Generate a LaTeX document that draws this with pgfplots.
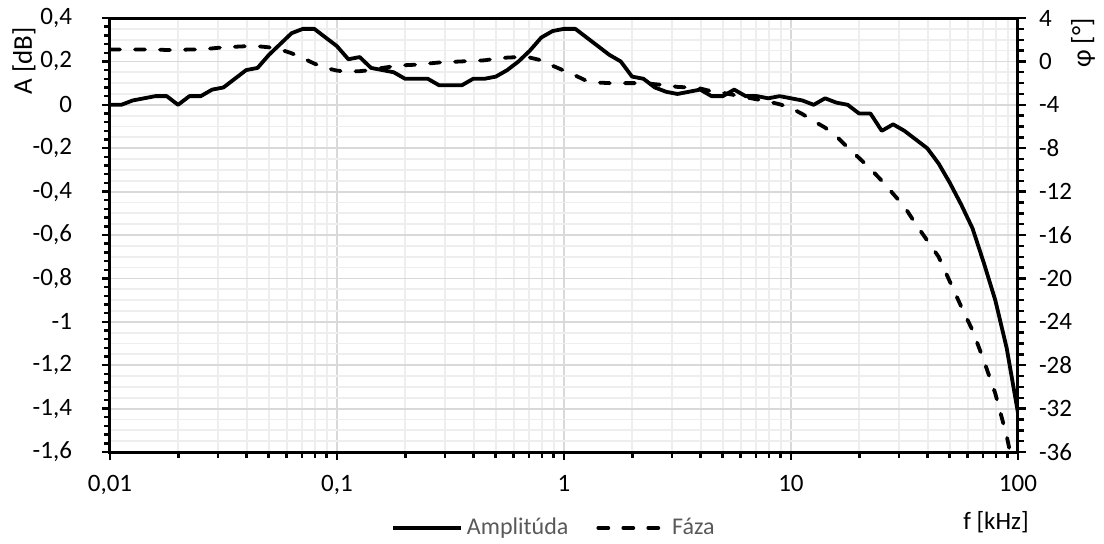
\documentclass[border=0pt]{standalone}
\usepackage{pgfplots}
\pgfplotsset{compat=1.18}
\usepackage{pgfplotstable}
\usepackage{fontspec}
\setmainfont{Carlito}
\definecolor{majgrid}{HTML}{D9D9D9}
\definecolor{mingrid}{HTML}{EEEEEE}
\definecolor{legtext}{HTML}{595959}

\tikzset{
  solidline/.style={black, line width=1.9pt, line join=round},
  dashline/.style={black, line width=1.9pt, dash pattern=on 5pt off 7.5pt, line cap=round, line join=round},
}

\pgfplotstableread{
f A P
0.01 0 1.1
0.01122 0 1.1
0.01259 0.02 1.1
0.01413 0.03 1.1
0.01585 0.04 1.1
0.01778 0.04 1.05
0.01995 0 1.05
0.02239 0.04 1.1
0.02512 0.04 1.1
0.02818 0.07 1.2
0.03162 0.08 1.3
0.03548 0.12 1.35
0.03981 0.16 1.4
0.04467 0.17 1.4
0.05012 0.23 1.3
0.05623 0.28 1.1
0.0631 0.33 0.75
0.07079 0.35 0.3
0.07943 0.35 -0.2
0.08913 0.31 -0.6
0.1 0.27 -0.85
0.1122 0.21 -0.95
0.1259 0.22 -0.9
0.1413 0.17 -0.8
0.1585 0.16 -0.6
0.1778 0.15 -0.45
0.1995 0.12 -0.35
0.2239 0.12 -0.3
0.2512 0.12 -0.2
0.2818 0.09 -0.1
0.3162 0.09 -0.05
0.3548 0.09 0
0.3981 0.12 0.05
0.4467 0.12 0.1
0.5012 0.13 0.25
0.5623 0.16 0.35
0.631 0.2 0.4
0.7079 0.25 0.35
0.7943 0.31 0.1
0.8913 0.34 -0.4
1 0.35 -0.85
1.122 0.35 -1.3
1.259 0.31 -1.8
1.413 0.27 -1.95
1.585 0.23 -2.0
1.778 0.2 -2.0
1.995 0.13 -2.0
2.239 0.12 -2.0
2.512 0.08 -2.1
2.818 0.06 -2.2
3.162 0.05 -2.35
3.548 0.06 -2.4
3.981 0.07 -2.5
4.467 0.04 -2.75
5.012 0.04 -2.9
5.623 0.07 -3.1
6.31 0.04 -3.3
7.079 0.04 -3.5
7.943 0.03 -3.7
8.913 0.04 -3.95
10 0.03 -4.3
11.22 0.02 -4.85
12.59 0 -5.5
14.13 0.03 -6.1
15.85 0.01 -6.9
17.78 0 -7.95
19.95 -0.04 -8.9
22.39 -0.04 -9.9
25.12 -0.12 -11.0
28.18 -0.09 -12.2
31.62 -0.12 -13.4
35.48 -0.16 -15.0
39.81 -0.2 -16.5
44.67 -0.27 -18.0
50.12 -0.36 -20.3
56.23 -0.46 -22.6
63.1 -0.57 -24.8
70.79 -0.73 -27.6
79.43 -0.9 -30.6
89.13 -1.12 -34.5
100 -1.42 -39.5
}\data

\begin{document}
\begin{tikzpicture}
% grid layer
\begin{axis}[scale only axis, width=454pt, height=217pt,
  xmode=log, xmin=0.01, xmax=100, at={(0pt,0pt)}, anchor=south west,
  xtick={0.01,0.1,1,10,100},
  ymin=-36, ymax=4,
  ytick={-36,-32,-28,-24,-20,-16,-12,-8,-4,0,4},
  minor ytick={-35,-34,-33,-31,-30,-29,-27,-26,-25,-23,-22,-21,-19,-18,-17,-15,-14,-13,-11,-10,-9,-7,-6,-5,-3,-2,-1,1,2,3},
  minor xtick={0.02,0.03,0.04,0.05,0.06,0.07,0.08,0.09,0.2,0.3,0.4,0.5,0.6,0.7,0.8,0.9,2,3,4,5,6,7,8,9,20,30,40,50,60,70,80,90},
  grid=both,
  major grid style={draw=majgrid, line width=0.9pt},
  minor grid style={draw=mingrid, line width=0.9pt},
  major tick length=0pt, minor tick length=0pt, axis line style={draw=none},
  xticklabels={}, yticklabels={}]
\addplot[draw=none] coordinates {(1,0)};
\end{axis}
% amplitude axis
\begin{axis}[scale only axis, width=454pt, height=217pt,
  xmode=log, xmin=0.01, xmax=100, at={(0pt,0pt)}, anchor=south west,
  tick label style={font=\fontsize{12.5}{14}\selectfont},
  xtick={0.01,0.1,1,10,100},
  ymin=-1.6, ymax=0.4,
  ytick={-1.6,-1.4,-1.2,-1,-0.8,-0.6,-0.4,-0.2,0,0.2,0.4},
  yticklabels={{-1,6},{-1,4},{-1,2},{-1},{-0,8},{-0,6},{-0,4},{-0,2},{0},{0,2},{0,4}},
  xticklabels={{0,01},{0,1},{1},{10},{100}},
  minor y tick num=4, minor xtick={},
  tick align=outside, xtick pos=bottom, ytick pos=left,
  major tick length=4pt, minor tick length=3pt,
  tick style={black, line width=1.2pt},
  axis line style={black, line width=1.5pt},
  yticklabel style={xshift=-11.5pt},
  xticklabel style={yshift=-4pt},
  legend style={at={(0.49,-0.175)}, anchor=center, draw=none, fill=none,
    legend columns=2, font=\fontsize{12}{14}\selectfont\color{legtext},
    /tikz/every even column/.append style={column sep=12pt}},
  legend image code/.code={\draw[#1] (0pt,0pt) -- (34pt,0pt);},
  legend cell align=left]
\addplot[solidline] table[x=f, y=A] {\data};
\addlegendentry{Amplitúda}
\addlegendimage{dashline}
\addlegendentry{Fáza}
\end{axis}
% phase axis
\begin{axis}[scale only axis, width=454pt, height=217pt,
  xmode=log, xmin=0.01, xmax=100, at={(0pt,0pt)}, anchor=south west,
  tick label style={font=\fontsize{12.5}{14}\selectfont},
  ymin=-36, ymax=4,
  axis y line*=right, axis x line=none,
  ytick={-36,-32,-28,-24,-20,-16,-12,-8,-4,0,4},
  yticklabels={{-36},{-32},{-28},{-24},{-20},{-16},{-12},{-8},{-4},{0},{4}},
  minor y tick num=3,
  tick align=outside, ytick pos=right,
  major tick length=4pt, minor tick length=3pt,
  tick style={black, line width=1.2pt},
  axis line style={black, line width=1.5pt},
  yticklabel style={xshift=3pt}]
\addplot[dashline] table[x=f, y=P] {\data};
\end{axis}
\node[rotate=90, font=\fontsize{13.5}{15}\selectfont] at (-43pt,195.5pt) {A [dB]};
\node[rotate=90, font=\fontsize{13.5}{15}\selectfont] at (486.5pt,204.5pt) {φ [°]};
\node[font=\fontsize{12.5}{14}\selectfont] at (443pt,-35pt) {f [kHz]};
\pgfresetboundingbox
\useasboundingbox (-55pt,-45.5pt) rectangle (497pt,226pt);
\end{tikzpicture}
\end{document}
